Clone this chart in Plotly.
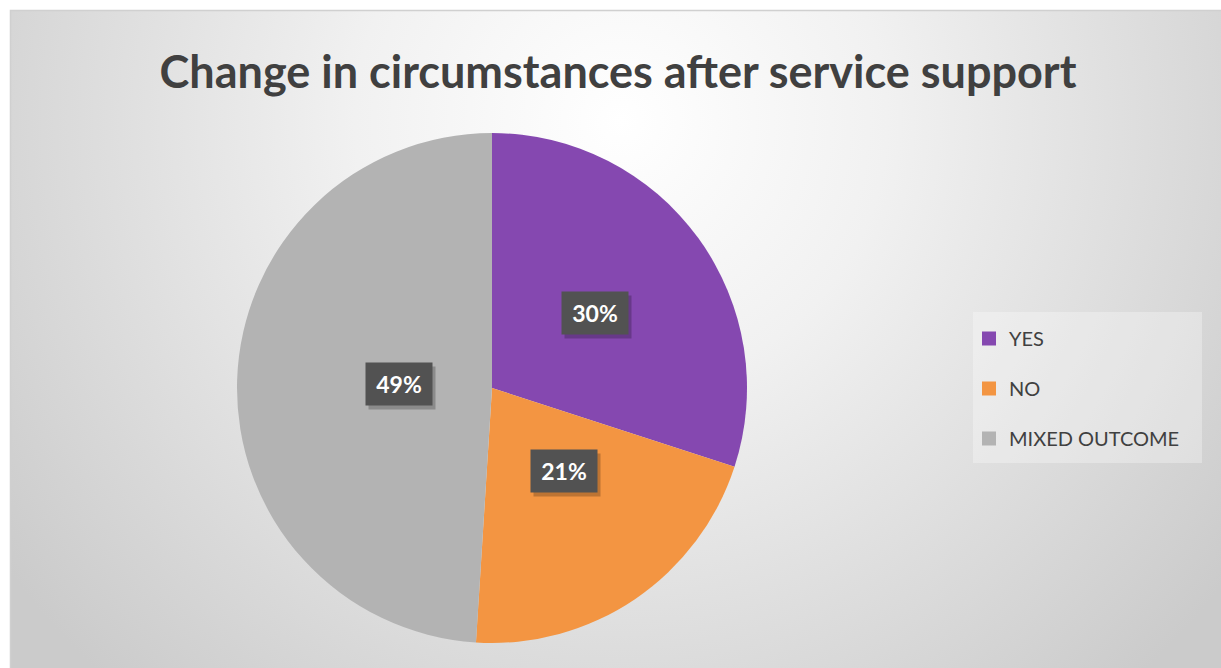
import base64
import math
import plotly.graph_objects as go

# Survey result: change in circumstances after service support (percent)
categories = ["YES", "NO", "MIXED OUTCOME"]
shares = [30, 21, 49]
colors = ["#8548B0", "#F39542", "#B3B3B3"]

W, H = 1221, 668
CX, CY, R = 492, 388, 255          # pie centre (px from top-left) and radius

# soft radial backdrop for the chart area
svg = f"""<svg xmlns='http://www.w3.org/2000/svg' width='{W}' height='{H}'>
<defs><radialGradient id='g' cx='610' cy='110' r='760' gradientUnits='userSpaceOnUse'>
<stop offset='0' stop-color='#ffffff'/><stop offset='0.35' stop-color='#f1f1f1'/>
<stop offset='1' stop-color='#cbcbcb'/></radialGradient></defs>
<rect width='{W}' height='{H}' fill='url(#g)'/></svg>"""
bg_uri = "data:image/svg+xml;base64," + base64.b64encode(svg.encode()).decode()

fig = go.Figure()

fig.add_trace(go.Pie(
    labels=categories,
    values=shares,
    marker=dict(colors=colors, line=dict(width=0)),
    sort=False,
    direction="clockwise",
    rotation=0,
    textinfo="none",
    hoverinfo="label+percent",
    showlegend=False,
    domain=dict(x=[(CX - R) / W, (CX + R) / W],
                y=[(H - CY - R) / H, (H - CY + R) / H]),
))

# legend entries, one group each so the gap between rows can be widened
for name, col in zip(categories, colors):
    fig.add_trace(go.Scatter(
        x=[None], y=[None], mode="markers", name=name, legendgroup=name,
        marker=dict(symbol="square", size=14, color=col),
        hoverinfo="skip",
    ))

# percentage callouts at half radius, on each slice's mid angle
total = sum(shares)
annotations = []
cum = 0
for v in shares:
    mid = (cum + v / 2) / total * 2 * math.pi
    cum += v
    px = CX + 0.5 * R * math.sin(mid)
    py = CY - 0.5 * R * math.cos(mid)
    x, y = px / W, 1 - py / H
    label = f"<b>{round(v / total * 100)}%</b>"
    # drop shadow behind the box
    annotations.append(dict(
        x=x, y=y, xref="paper", yref="paper", text=" ", showarrow=False,
        xshift=3, yshift=-4, width=64, height=40,
        bgcolor="rgba(0,0,0,0.22)", font=dict(size=22, family="Lato"),
    ))
    annotations.append(dict(
        x=x, y=y, xref="paper", yref="paper", text=label, showarrow=False,
        width=64, height=40, bgcolor="#525252",
        font=dict(color="white", size=23, family="Lato"),
    ))

fig.update_layout(
    width=W, height=H,
    margin=dict(l=0, r=0, t=0, b=0),
    paper_bgcolor="white",
    plot_bgcolor="rgba(0,0,0,0)",
    xaxis=dict(visible=False),
    yaxis=dict(visible=False),
    title=dict(
        text="<b>Change in circumstances after service support</b>",
        x=618 / W, xanchor="center", xref="paper",
        y=1 - 72 / H, yanchor="middle", yref="paper",
        font=dict(family="Lato", size=45, color="#404040"),
    ),
    legend=dict(
        x=969 / W, y=1 - 319 / H, xanchor="left", yanchor="top",
        bgcolor="rgba(0,0,0,0)",
        font=dict(family="Lato", size=20, color="#404040"),
        tracegroupgap=21,
        itemsizing="trace",
        traceorder="grouped",
    ),
    images=[dict(
        source=bg_uri, xref="paper", yref="paper",
        x=11 / W, y=1 - 11 / H, sizex=1, sizey=1,
        xanchor="left", yanchor="top", sizing="stretch", layer="below",
    )],
    shapes=[
        # chart area frame
        dict(type="rect", xref="paper", yref="paper",
             x0=10.5 / W, y0=-0.01, x1=1.01, y1=1 - 10.5 / H,
             line=dict(color="#d0d0d0", width=1.5), fillcolor="rgba(0,0,0,0)"),
        # legend panel
        dict(type="rect", xref="paper", yref="paper", layer="below",
             x0=973 / W, y0=1 - 463 / H, x1=1202 / W, y1=1 - 312 / H,
             line=dict(width=0), fillcolor="rgba(255,255,255,0.3)"),
    ],
    annotations=annotations,
    showlegend=True,
)

fig.write_html("out.html")
